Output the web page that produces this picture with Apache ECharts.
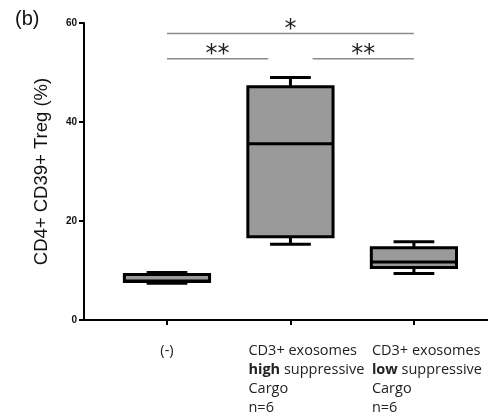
<!DOCTYPE html>
<html><head><meta charset="utf-8">
<script src="https://cdn.jsdelivr.net/npm/echarts@6/dist/echarts.min.js"></script>
<style>html,body{margin:0;padding:0;background:#fff}#c{width:488px;height:418px}</style>
</head><body><div id="c"></div>
<script>
// Categories (x positions 0,1,2)
const categories = ['(-)', 'CD3+ exosomes high suppressive Cargo n=6', 'CD3+ exosomes low suppressive Cargo n=6'];
const categoryLabels = [
  '{c|(-)}',
  '{n|CD3+ exosomes}\n{b|high}{n| suppressive}\n{n|Cargo}\n{n|n=6}',
  '{n|CD3+ exosomes}\n{b|low}{n| suppressive}\n{n|Cargo}\n{n|n=6}'
];
// Box statistics: [min, Q1, median, Q3, max]
const boxMin    = [7.4, 15.3, 9.4];
const boxQ1     = [7.8, 16.8, 10.6];
const boxMedian = [7.9, 35.6, 11.7];
const boxQ3     = [9.2, 47.1, 14.6];
const boxMax    = [9.6, 49.0, 15.8];
// Significance brackets
const sigFrom  = [0, 0, 1.18];
const sigTo    = [2, 0.82, 2];
const sigY     = [57.9, 52.8, 52.8];
const sigLabel = ['*', '**', '**'];
const yTicks = [0, 20, 40, 60];

const boxData = categories.map((c, i) => [i, boxMin[i], boxQ1[i], boxMedian[i], boxQ3[i], boxMax[i]]);
const sigData = sigLabel.map((s, i) => [sigFrom[i], sigTo[i], sigY[i], s]);

const chart = echarts.init(document.getElementById('c'), null, {renderer: 'canvas'});
chart.setOption({
  animation: false,
  backgroundColor: '#fff',
  grid: {left: 84, right: 0, top: 23, bottom: 98},
  title: {text: '(b)', left: 10, top: 4, textStyle: {fontFamily: 'Liberation Sans', fontSize: 20, fontWeight: 'normal', color: '#111'}},
  xAxis: {
    type: 'value', min: -0.672, max: 2.6,
    splitLine: {show: false},
    axisLine: {show: true, onZero: false, lineStyle: {color: '#000', width: 2}},
    axisTick: {show: true, customValues: [0, 1, 2], length: 5, lineStyle: {color: '#000', width: 2}},
    axisLabel: {
      customValues: [0, 1, 2],
      formatter: v => categoryLabels[Math.round(v)],
      margin: 21, align: 'center', width: 84,
      rich: {
        n: {fontFamily: 'Open Sans', fontSize: 14.5, color: '#222', lineHeight: 19, align: 'left'},
        b: {fontFamily: 'Open Sans', fontSize: 14.5, fontWeight: 'bold', color: '#222', lineHeight: 19, align: 'left'},
        c: {fontFamily: 'Open Sans', fontSize: 14.5, color: '#222', lineHeight: 19, align: 'center'}
      }
    }
  },
  yAxis: {
    type: 'value', min: 0, max: 60, interval: 20,
    name: 'CD4+ CD39+ Treg (%)', nameLocation: 'middle', nameGap: 33, nameRotate: 90,
    nameTextStyle: {fontFamily: 'Liberation Sans', fontSize: 18.5, color: '#111'},
    splitLine: {show: false},
    axisLine: {show: true, onZero: false, lineStyle: {color: '#000', width: 2}},
    axisTick: {show: true, length: 5, lineStyle: {color: '#000', width: 2}},
    axisLabel: {fontFamily: 'Liberation Sans', fontSize: 10, fontWeight: 'bold', color: '#111', margin: 7,
      formatter: v => yTicks.includes(v) ? String(v) : ''}
  },
  series: [
    {
      type: 'custom',
      data: boxData,
      renderItem: function (params, api) {
        const x = api.value(0);
        const pMin = api.coord([x, api.value(1)]);
        const pQ1 = api.coord([x, api.value(2)]);
        const pMed = api.coord([x, api.value(3)]);
        const pQ3 = api.coord([x, api.value(4)]);
        const pMax = api.coord([x, api.value(5)]);
        const bw = api.size([0.69, 0])[0];
        const cw = api.size([0.33, 0])[0];
        const cx = pQ1[0];
        const st = {stroke: '#000', lineWidth: 3, fill: null};
        return {
          type: 'group',
          children: [
            {type: 'line', shape: {x1: cx, y1: pQ3[1], x2: cx, y2: pMax[1]}, style: st},
            {type: 'line', shape: {x1: cx, y1: pQ1[1], x2: cx, y2: pMin[1]}, style: st},
            {type: 'line', shape: {x1: cx - cw / 2, y1: pMax[1], x2: cx + cw / 2, y2: pMax[1]}, style: st},
            {type: 'line', shape: {x1: cx - cw / 2, y1: pMin[1], x2: cx + cw / 2, y2: pMin[1]}, style: st},
            {type: 'rect', shape: {x: cx - bw / 2, y: pQ3[1], width: bw, height: pQ1[1] - pQ3[1]},
              style: {fill: '#9a9a9a', stroke: '#000', lineWidth: 3}},
            {type: 'line', shape: {x1: cx - bw / 2, y1: pMed[1], x2: cx + bw / 2, y2: pMed[1]}, style: st}
          ]
        };
      }
    },
    {
      type: 'custom',
      data: sigData,
      renderItem: function (params, api) {
        const a = api.coord([api.value(0), api.value(2)]);
        const b = api.coord([api.value(1), api.value(2)]);
        const d = sigData[params.dataIndex];
        return {
          type: 'group',
          children: [
            {type: 'line', shape: {x1: a[0], y1: a[1], x2: b[0], y2: b[1]}, style: {stroke: '#8a8a8a', lineWidth: 1.5}},
            {type: 'text', x: (a[0] + b[0]) / 2, y: a[1] + 8,
              style: {text: d[3], fontFamily: 'DejaVu Sans', fontSize: 24, fill: '#222', align: 'center', verticalAlign: 'bottom'}}
          ]
        };
      }
    }
  ]
});
</script></body></html>
